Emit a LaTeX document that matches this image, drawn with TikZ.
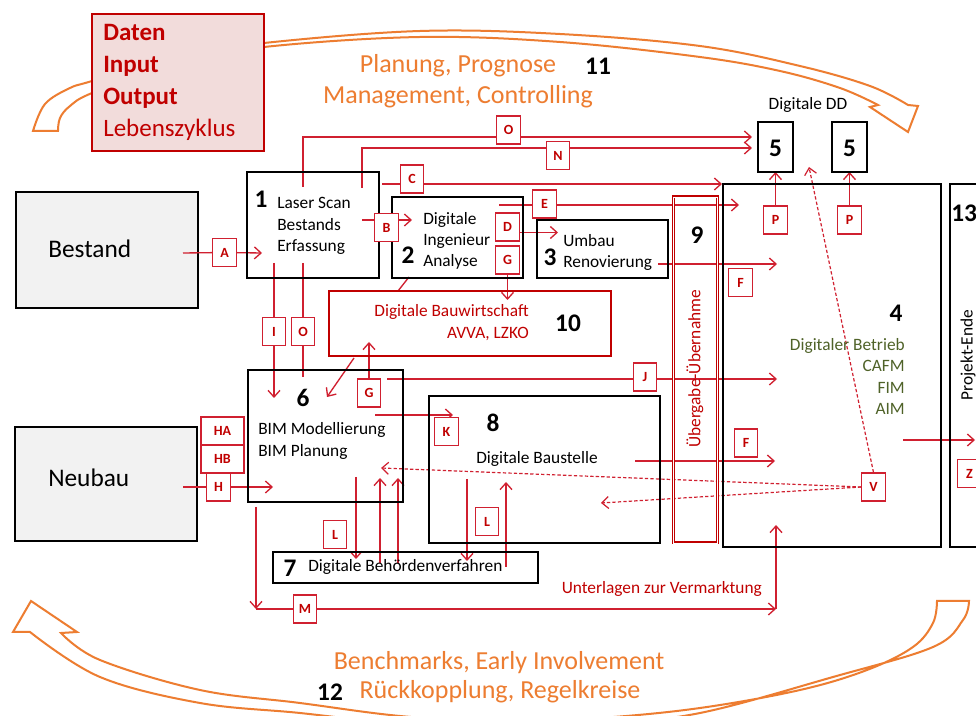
\documentclass[tikz,border=0pt]{standalone}
\usepackage{fontspec}
\setmainfont{Carlito}
\usetikzlibrary{arrows.meta}
\definecolor{lred}{RGB}{208,32,48}
\definecolor{dred}{RGB}{192,0,0}
\definecolor{orng}{RGB}{237,125,49}
\definecolor{opgreen}{RGB}{79,98,40}
\definecolor{pinkfill}{RGB}{242,220,219}
\definecolor{grayfill}{RGB}{242,242,242}
\pgfdeclarelayer{back}
\pgfdeclarelayer{wires}
\pgfsetlayers{back,wires,main}
\tikzset{
  blk/.style={draw=black, line width=1.5pt, inner sep=0pt, outer sep=0pt},
  lbl/.style={draw=lred, line width=0.9pt, fill=white, text=dred, inner sep=0pt,
    font=\bfseries\fontsize{10.5}{12}\selectfont, minimum width=17.5pt, minimum height=21pt},
  lblw/.style={lbl, minimum width=32.25pt},
  num/.style={font=\bfseries\fontsize{19}{22}\selectfont, inner sep=0pt},
  btxt/.style={font=\fontsize{13}{16}\selectfont, inner sep=0pt},
  otxt/.style={font=\fontsize{19.5}{23}\selectfont, text=orng, inner sep=0pt},
  wire/.style={draw=lred, line width=1pt},
  arr/.style={wire, -{Straight Barb[length=5pt,width=9pt]}},
  dashwire/.style={arr, dash pattern=on 2.5pt off 1.6pt, line width=0.9pt},
  bandarrow/.style={draw=orng, line width=1.5pt, fill=white, line join=miter}
}
\begin{document}
\begin{tikzpicture}[x=0.75pt, y=-0.75pt]
\useasboundingbox (0,0) rectangle (976,716);

% ---------- background: feedback arrows and the two start boxes
\begin{pgfonlayer}{back}
\fill[white] (0,0) rectangle (976,716);
% upper curved arrow (planning loop)
\draw[bandarrow]
  (908,105) -- (918,106) -- (908,132) -- (870,107) -- (878,105)
  -- plot[smooth, tension=0.6] coordinates {(878,105) (840,88) (780,71) (700,57) (560,42) (420,37) (264,47) (170,64) (92,93) (70,106) (60,118) (58,131)}
  -- (33,131)
  -- plot[smooth, tension=0.6] coordinates {(33,131) (45,104) (70,88) (92,81) (170,57) (264,43) (420,31) (560,34) (700,46) (800,66) (870,86) (908,105)}
  -- cycle;
% lower curved arrow (feedback loop)
\draw[bandarrow]
  (31,601) -- (77,632) -- (61,633)
  -- plot[smooth, tension=0.6] coordinates {(61,633) (100,660) (200,690) (300,703) (400,716) (500,722) (600,718) (700,708) (800,690) (867,670) (913,647) (933,623) (937,601)}
  -- (969,601)
  -- plot[smooth, tension=0.6] coordinates {(969,601) (963,620) (933,647) (833,677) (700,713) (600,724) (500,729) (400,724) (300,713) (200,703) (100,677) (30,632)}
  -- (13,632) -- cycle;
\node[blk, fill=grayfill, minimum width=136.5pt, minimum height=87pt] (bestand) at (107,250) {};
\node[blk, fill=grayfill, minimum width=136.5pt, minimum height=85.5pt] (neubau) at (106,484) {};
\end{pgfonlayer}

% ---------- main boxes
\node[draw=dred, line width=1pt, fill=pinkfill, minimum width=129pt, minimum height=102.75pt] (datenbox) at (178,82.5) {};
\node[anchor=west, align=left, text=dred, inner sep=0pt, font=\fontsize{18.75}{23.8}\selectfont] (datentxt) at (103,82.5)
  {\textbf{Daten}\\\textbf{Input}\\\textbf{Output}\\Lebenszyklus};

\node[btxt, font=\fontsize{19}{22}\selectfont, anchor=west] (bestandtxt) at (48,249) {Bestand};
\node[btxt, font=\fontsize{19}{22}\selectfont, anchor=west] (neubautxt) at (48,478) {Neubau};

\node[blk, minimum width=99pt, minimum height=79.5pt] (box1) at (313,225) {};
\node[num] (n1) at (261,199) {1};
\node[btxt, anchor=west, align=left] (t1) at (277,226) {Laser Scan\\Bestands\\Erfassung};

\node[blk, minimum width=98.25pt, minimum height=60.75pt] (box2) at (457.5,237.5) {};
\node[num] (n2) at (408,255) {2};
\node[btxt, anchor=west, align=left] (t2) at (423,241) {Digitale\\Ingenieur\\Analyse};

\node[blk, minimum width=98.25pt, minimum height=43.5pt] (box3) at (602.5,249) {};
\node[num] (n3) at (550,257) {3};
\node[btxt, anchor=west, align=left] (t3) at (563,252.5) {Umbau\\Renovierung};

\node[draw=dred, line width=1.8pt, minimum width=211.5pt, minimum height=48.75pt, inner sep=0pt] (box10) at (470,323.5) {};
\node[btxt, anchor=east, align=right, text=dred] (t10) at (529,322.5) {Digitale Bauwirtschaft\\AVVA, LZKO};
\node[num] (n10) at (568,323) {10};

\node[blk, minimum width=116.25pt, minimum height=99pt] (box6) at (325.5,436) {};
\node[num] (n6) at (303,398) {6};
\node[btxt, anchor=west, align=left] (t6) at (258,441) {BIM Modellierung\\BIM Planung};

\node[blk, minimum width=173.25pt, minimum height=110.25pt] (box8) at (544.5,469.5) {};
\node[num] (n8) at (493,423) {8};
\node[btxt] (t8) at (537,459) {Digitale Baustelle};

\node[blk, minimum width=198.75pt, minimum height=23.25pt] (box7) at (405.5,567.5) {};
\node[num] (n7) at (290,568) {7};
\node[btxt, anchor=west] (t7) at (308,567) {Digitale Behördenverfahren};

\node[draw=dred, line width=0.9pt, double=white, double distance=0.45pt, minimum width=33pt, minimum height=259.5pt, inner sep=0pt] (box9) at (695,370) {};
\node[num] (n9) at (697,235) {9};
\node[btxt, text=dred, rotate=90] (t9) at (695,369) {Übergabe-Übernahme};

\node[blk, minimum width=163.5pt, minimum height=272.25pt] (box4) at (832,365.5) {};
\node[num] (n4) at (896,313) {4};
\node[btxt, anchor=east, align=right, text=opgreen, font=\fontsize{13}{15.8}\selectfont] (t4) at (905,376.5) {Digitaler Betrieb\\CAFM\\FIM\\AIM};

\node[blk, minimum width=45pt, minimum height=272.25pt] (box13) at (980,365.5) {};
\node[num, anchor=west] (n13) at (951,213) {13};
\node[btxt, rotate=90] (t13) at (968,355) {Projekt-Ende};

\node[blk, minimum width=26.25pt, minimum height=37.5pt] (fiveA) at (775.5,147) {};
\node[num] (n5a) at (775.5,148) {5};
\node[blk, minimum width=26.25pt, minimum height=37.5pt] (fiveB) at (849.5,147) {};
\node[num] (n5b) at (849.5,148) {5};
\node[btxt] (ddtxt) at (808,105) {Digitale DD};

% ---------- captions of the feedback loops
\node[otxt] (plan1) at (458,66) {Planung, Prognose};
\node[otxt] (plan2) at (458,97) {Management, Controlling};
\node[num] (n11) at (598,66) {11};
\node[otxt] (fb1) at (499,663) {Benchmarks, Early Involvement};
\node[otxt] (fb2) at (500,692) {Rückkopplung, Regelkreise};
\node[num] (n12) at (330,692) {12};

\node[btxt, text=dred, anchor=east] (verm) at (762,589) {Unterlagen zur Vermarktung};

% ---------- interface labels
\node[lbl] (lA) at (224.5,252.5) {A};
\node[lbl] (lB) at (386.5,227.5) {B};
\node[lbl] (lC) at (412,179) {C};
\node[lbl] (lO1) at (508.5,130) {O};
\node[lbl] (lN) at (558,155.5) {N};
\node[lbl] (lE) at (544.5,204) {E};
\node[lbl] (lD) at (507.5,227) {D};
\node[lbl] (lG1) at (507.5,260) {G};
\node[lbl] (lI) at (274,331.5) {I};
\node[lbl] (lO2) at (303,331.5) {O};
\node[lbl] (lG2) at (369,393) {G};
\node[lbl] (lJ) at (645,377) {J};
\node[lbl] (lK) at (446.5,431.5) {K};
\node[lblw] (lHA) at (222.5,431) {HA};
\node[lblw] (lHB) at (222.5,459) {HB};
\node[lbl] (lH) at (218.5,487) {H};
\node[lbl] (lL1) at (335,534.5) {L};
\node[lbl] (lL2) at (487,521.5) {L};
\node[lbl] (lM) at (305,609) {M};
\node[lbl] (lP1) at (775.5,220) {P};
\node[lbl] (lP2) at (849.5,220) {P};
\node[lbl] (lF1) at (740.5,282.5) {F};
\node[lbl] (lF2) at (746,443) {F};
\node[lbl] (lV) at (873.5,487) {V};
\node[lbl] (lZ) at (969.5,473.5) {Z};

% ---------- connector end points
\coordinate (a0) at (183,253);   \coordinate (a1) at (262,253);
\coordinate (b0) at (362,220);   \coordinate (b1) at (412,220);
\coordinate (c0) at (382,184);   \coordinate (c1) at (722,184);
\coordinate (o0) at (303,187);   \coordinate (o1) at (303,137);   \coordinate (o2) at (752,137);
\coordinate (nn0) at (362,188);  \coordinate (nn1) at (362,148);  \coordinate (nn2) at (752,148);
\coordinate (e0) at (499,205);   \coordinate (e1) at (739,205);
\coordinate (d0) at (519,232.5); \coordinate (d1) at (558,232.5);
\coordinate (g1) at (507.5,300);
\coordinate (r0) at (658,264);   \coordinate (r1) at (777,264);
\coordinate (q0) at (409,277);   \coordinate (q1) at (398,291);
\coordinate (i0) at (274,263);   \coordinate (i1) at (274,398);
\coordinate (m0) at (303,263);   \coordinate (m1) at (303,377);
\coordinate (t0) at (354,358);   \coordinate (tt1) at (327,397);
\coordinate (gm1) at (369,342);
\coordinate (j0) at (387,379);   \coordinate (j1) at (777,379);
\coordinate (k0) at (375,415);   \coordinate (k1) at (453,415);
\coordinate (h0) at (183,487);   \coordinate (h1) at (273,487);
\coordinate (s0) at (635,461);   \coordinate (s1) at (775,461);
\coordinate (v1) at (381,468);   \coordinate (v2) at (601,503);   \coordinate (v3) at (809,167);
\coordinate (u0) at (356,477);   \coordinate (u1) at (356,559);
\coordinate (w0) at (380,563);   \coordinate (w1) at (380,478);
\coordinate (x0) at (398,563);   \coordinate (x1) at (398,478);
\coordinate (y0) at (467,479);   \coordinate (y1) at (467,561);
\coordinate (z0) at (506,567);   \coordinate (z1) at (506,482);
\coordinate (mm0) at (256,507);  \coordinate (mm1) at (256,609);
\coordinate (mm2) at (776,609);  \coordinate (mm3) at (776,525);
\coordinate (f0) at (903,440);   \coordinate (f1) at (975,440);

% ---------- connectors
\begin{pgfonlayer}{wires}
\draw[wire] (a0) -- (lA);  \draw[arr] (lA) -- (a1);
\draw[arr] (b0) -- (b1);
\draw[arr] (c0) -- (c1);
\draw[arr] (o0) -- (o1) -- (o2);
\draw[arr] (nn0) -- (nn1) -- (nn2);
\draw[arr] (e0) -- (e1);
\draw[arr] (d0) -- (d1);
\draw[arr] (lG1) -- (g1);
\draw[arr] (r0) -- (r1);
\draw[wire] (q0) -- (q1);
\draw[arr] (i0) -- (i1);
\draw[wire] (m0) -- (m1);
\draw[arr] (t0) -- (tt1);
\draw[arr] (lG2) -- (gm1);
\draw[arr] (j0) -- (j1);
\draw[arr] (k0) -- (k1);
\draw[wire] (h0) -- (lH);  \draw[arr] (lH) -- (h1);
\draw[arr] (s0) -- (s1);
\draw[dashwire] (lV.west) -- (v1);
\draw[dashwire] (lV.west) -- (v2);
\draw[dashwire] (lV.north) -- (v3);
\draw[arr] (lP1) -- (fiveA);
\draw[arr] (lP2) -- (fiveB);
\draw[arr] (u0) -- (u1);
\draw[arr] (w0) -- (w1);
\draw[arr] (x0) -- (x1);
\draw[arr] (y0) -- (y1);
\draw[arr] (z0) -- (z1);
\draw[arr] (mm0) -- (mm1);
\draw[arr] (mm1) -- (mm2);
\draw[arr] (mm2) -- (mm3);
\draw[arr] (f0) -- (f1);
\end{pgfonlayer}
\end{tikzpicture}
\end{document}
